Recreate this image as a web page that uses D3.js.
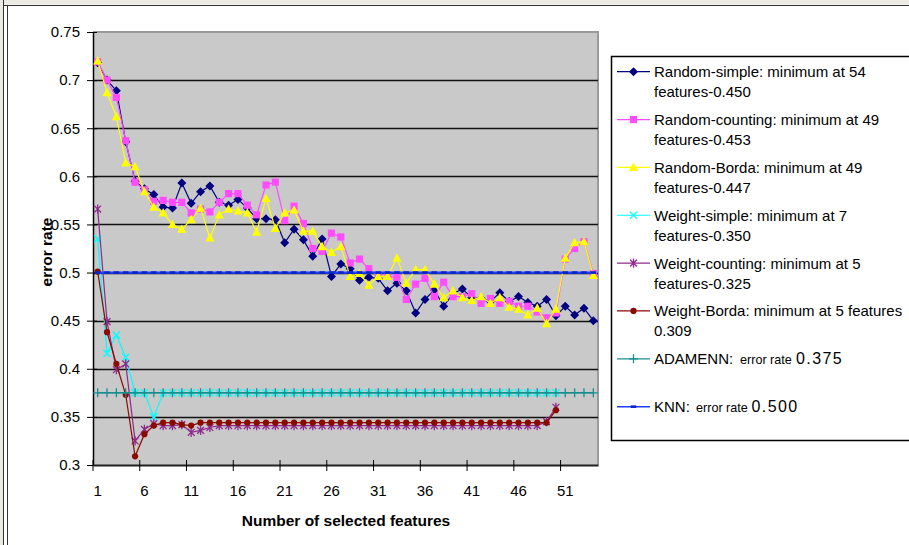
<!DOCTYPE html>
<html>
<head>
<meta charset="utf-8">
<script src="https://cdn.jsdelivr.net/npm/d3@7"></script>
<style>
  body { margin: 0; background: #fff; }
  svg { display: block; font-family: "Liberation Sans", Arial, sans-serif; }
</style>
</head>
<body>
<svg class="chart" width="909" height="545"></svg>
<script>
// --- data ---
const categories = [1,2,3,4,5,6,7,8,9,10,11,12,13,14,15,16,17,18,19,20,21,22,23,24,25,26,27,
  28,29,30,31,32,33,34,35,36,37,38,39,40,41,42,43,44,45,46,47,48,49,50,51,52,53,54];
const xTickLabels = ['1','6','11','16','21','26','31','36','41','46','51'];
const yTicks = [0.3, 0.35, 0.4, 0.45, 0.5, 0.55, 0.6, 0.65, 0.7, 0.75];
const yTickLabels = ['0.3','0.35','0.4','0.45','0.5','0.55','0.6','0.65','0.7','0.75'];

const randomSimple = [0.718,0.700,0.689,0.636,0.595,0.587,0.581,0.568,0.567,0.593,0.572,0.584,0.590,0.573,
  0.570,0.576,0.567,0.556,0.556,0.555,0.531,0.545,0.534,0.517,0.535,0.496,0.509,0.504,0.492,0.495,
  0.494,0.481,0.489,0.481,0.458,0.472,0.482,0.465,0.478,0.483,0.474,0.473,0.470,0.479,0.470,0.475,
  0.469,0.465,0.472,0.455,0.465,0.456,0.463,0.450];
const randomCounting = [0.719,0.700,0.682,0.637,0.594,0.586,0.574,0.575,0.573,0.573,0.562,0.566,0.563,0.573,
  0.582,0.582,0.570,0.560,0.591,0.594,0.554,0.569,0.551,0.525,0.522,0.541,0.537,0.510,0.514,0.504,
  0.496,0.496,0.495,0.472,0.488,0.494,0.475,0.490,0.475,0.475,0.478,0.468,0.473,0.468,0.470,0.465,
  0.465,0.459,0.453,0.458,0.514,0.525,0.532,0.499];
const randomBorda = [0.720,0.687,0.662,0.614,0.610,0.584,0.568,0.562,0.550,0.545,0.555,0.567,0.536,0.560,
  0.566,0.564,0.562,0.542,0.577,0.546,0.562,0.565,0.543,0.543,0.527,0.521,0.527,0.496,0.499,0.487,
  0.496,0.496,0.515,0.489,0.503,0.503,0.488,0.474,0.481,0.474,0.471,0.475,0.468,0.474,0.464,0.462,
  0.456,0.463,0.447,0.462,0.515,0.531,0.532,0.497];
const weightSimple = [0.535,0.416,0.435,0.412,0.375,0.375,0.350,0.375,0.375,0.375,0.375,0.375,0.375,0.375,
  0.375,0.375,0.375,0.375,0.375,0.375,0.375,0.375,0.375,0.375,0.375,0.375,0.375,0.375,0.375,0.375,
  0.375,0.375,0.375,0.375,0.375,0.375,0.375,0.375,0.375,0.375,0.375,0.375,0.375,0.375,0.375,0.375,
  0.375,0.375,0.375,0.375];
const weightCounting = [0.566,0.449,0.399,0.405,0.325,0.337,0.343,0.341,0.341,0.342,0.334,0.336,0.339,0.341,
  0.341,0.341,0.341,0.341,0.341,0.341,0.341,0.341,0.341,0.341,0.341,0.341,0.341,0.341,0.341,0.341,
  0.341,0.341,0.341,0.341,0.341,0.341,0.341,0.341,0.341,0.341,0.341,0.341,0.341,0.341,0.341,0.341,
  0.341,0.341,0.345,0.360];
const weightBorda = [0.501,0.438,0.405,0.373,0.309,0.332,0.341,0.344,0.344,0.342,0.341,0.344,0.344,0.344,
  0.344,0.344,0.344,0.344,0.344,0.344,0.344,0.344,0.344,0.344,0.344,0.344,0.344,0.344,0.344,0.344,
  0.344,0.344,0.344,0.344,0.344,0.344,0.344,0.344,0.344,0.344,0.344,0.344,0.344,0.344,0.344,0.344,
  0.344,0.344,0.344,0.357];
const adamenn = [0.375,0.375,0.375,0.375,0.375,0.375,0.375,0.375,0.375,0.375,0.375,0.375,0.375,0.375,
  0.375,0.375,0.375,0.375,0.375,0.375,0.375,0.375,0.375,0.375,0.375,0.375,0.375,0.375,0.375,0.375,
  0.375,0.375,0.375,0.375,0.375,0.375,0.375,0.375,0.375,0.375,0.375,0.375,0.375,0.375,0.375,0.375,
  0.375,0.375,0.375,0.375,0.375,0.375,0.375,0.375];
const knn = [0.5,0.5,0.5,0.5,0.5,0.5,0.5,0.5,0.5,0.5,0.5,0.5,0.5,0.5,0.5,0.5,0.5,0.5,0.5,0.5,0.5,0.5,
  0.5,0.5,0.5,0.5,0.5,0.5,0.5,0.5,0.5,0.5,0.5,0.5,0.5,0.5,0.5,0.5,0.5,0.5,0.5,0.5,0.5,0.5,0.5,0.5,
  0.5,0.5,0.5,0.5,0.5,0.5,0.5,0.5];

// series styling (drawn in this order, later on top)
const series = [
  { values: randomSimple, color: '#000080', mark: 'diamond', width: 1.2,
    legend: ['Random-simple: minimum at 54', 'features-0.450'] },
  { values: randomCounting, color: '#ff4cff', mark: 'square', width: 1.2,
    legend: ['Random-counting: minimum at 49', 'features-0.453'] },
  { values: randomBorda, color: '#ffff00', mark: 'triangle', width: 1.2,
    legend: ['Random-Borda: minimum at 49', 'features-0.447'] },
  { values: weightSimple, color: '#00ffff', mark: 'x', width: 1.2,
    legend: ['Weight-simple: minimum at 7', 'features-0.350'] },
  { values: weightCounting, color: '#8e2a8e', mark: 'star', width: 1.2,
    legend: ['Weight-counting: minimum at 5', 'features-0.325'] },
  { values: weightBorda, color: '#8b0a00', mark: 'circle', width: 1.2,
    legend: ['Weight-Borda: minimum at 5 features', '0.309'] },
  { values: adamenn, color: '#1a8f8f', mark: 'plus', width: 1.5,
    legend: [[['ADAMENN:', 654, 15], ['error rate', 740, 12.6], ['0.375', 796, 16]]] },
  { values: knn, color: '#2040ff', mark: 'dash', width: 2.2,
    legend: [[['KNN:', 654, 15], ['error rate', 696, 12.6], ['0.500', 751.5, 16]]] }
];

const markPaths = {
  diamond: 'M0,-4.5L4.5,0L0,4.5L-4.5,0Z',
  square: 'M-3.6,-3.6h7.2v7.2h-7.2Z',
  triangle: 'M0,-4.8L4.6,3.6L-4.6,3.6Z',
  circle: 'M0,-3.1A3.1,3.1 0 1,1 0,3.1A3.1,3.1 0 1,1 0,-3.1Z',
  x: 'M-3.6,-3.6L3.6,3.6M-3.6,3.6L3.6,-3.6',
  star: 'M-3.4,-3.4L3.4,3.4M-3.4,3.4L3.4,-3.4M0,-4.6L0,4.6',
  plus: 'M-4.5,0L4.5,0M0,-4.5L0,4.5',
  dash: 'M-2.8,0L2.8,0'
};
const filledMarks = ['diamond', 'square', 'triangle', 'circle'];

const chart = d3.select('.chart');
const width = +chart.attr('width');
const height = +chart.attr('height');

// outer frame of the picture
chart.append('rect').attr('x', 0).attr('y', 0).attr('width', width).attr('height', 4.5).attr('fill', '#ecebe2');
chart.append('rect').attr('x', 0).attr('y', 0).attr('width', 3).attr('height', height).attr('fill', '#ecebe2');
chart.append('line').attr('x1', 3.5).attr('x2', 3.5).attr('y1', 0).attr('y2', height)
  .attr('stroke', '#333').attr('stroke-width', 1);
chart.append('line').attr('x1', 7.5).attr('x2', 7.5).attr('y1', 5).attr('y2', height)
  .attr('stroke', '#333').attr('stroke-width', 1);
chart.append('line').attr('x1', 3).attr('x2', width).attr('y1', 5.5).attr('y2', 5.5)
  .attr('stroke', '#333').attr('stroke-width', 1);

const plot = { left: 93, right: 598, top: 32, bottom: 465 };

const xScale = d3.scaleBand()
  .domain(categories)
  .range([plot.left, plot.right])
  .padding(0);
const xCenter = d => xScale(d) + xScale.bandwidth() / 2;

const yScale = d3.scaleLinear()
  .domain([0.3, 0.75])
  .range([plot.bottom, plot.top]);

// plot area
chart.append('rect')
  .attr('x', plot.left).attr('y', plot.top)
  .attr('width', plot.right - plot.left).attr('height', plot.bottom - plot.top)
  .attr('fill', '#c9c9c9');
chart.append('path')
  .attr('d', `M${plot.left},${plot.top}H${plot.right}V${plot.bottom}`)
  .attr('fill', 'none').attr('stroke', '#9a9a9a').attr('stroke-width', 2);

// gridlines
chart.append('g').selectAll('line')
  .data(yTicks.filter(v => v > 0.3 && v < 0.75))
  .enter().append('line')
  .attr('x1', plot.left).attr('x2', plot.right)
  .attr('y1', d => Math.round(yScale(d)) + 0.5).attr('y2', d => Math.round(yScale(d)) + 0.5)
  .attr('stroke', '#111').attr('stroke-width', 1.3);

// y axis
const yAxis = chart.append('g')
  .attr('transform', `translate(${plot.left},0)`)
  .call(d3.axisLeft(yScale)
    .tickValues(yTicks)
    .tickFormat((d, i) => yTickLabels[i])
    .tickSizeOuter(0)
    .tickSizeInner(6)
    .tickPadding(7));
yAxis.select('.domain').attr('stroke', '#000').attr('stroke-width', 1.5);
yAxis.selectAll('.tick line').attr('x2', 4).attr('x1', -6).attr('stroke', '#000');
yAxis.selectAll('.tick text')
  .attr('font-family', '"Liberation Sans", Arial, sans-serif')
  .attr('font-size', 15).attr('fill', '#000');

// x axis: ticks between categories, labels centred
const xAxis = chart.append('g')
  .attr('transform', `translate(0,${plot.bottom})`)
  .call(d3.axisBottom(xScale)
    .tickValues(xTickLabels.map(Number))
    .tickSizeOuter(0)
    .tickSizeInner(6)
    .tickPadding(14));
xAxis.select('.domain').attr('stroke', '#222').attr('stroke-width', 2);
xAxis.selectAll('.tick line')
  .attr('x1', -xScale.bandwidth() / 2).attr('x2', -xScale.bandwidth() / 2)
  .attr('y1', -5).attr('y2', 6).attr('stroke', '#000');
xAxis.selectAll('.tick text')
  .attr('font-family', '"Liberation Sans", Arial, sans-serif')
  .attr('font-size', 15).attr('fill', '#000');

// axis titles
chart.append('text')
  .attr('x', 346).attr('y', 526)
  .attr('text-anchor', 'middle')
  .attr('font-size', 15.5).attr('font-weight', 'bold')
  .text('Number of selected features');
chart.append('text')
  .attr('transform', 'translate(52,252) rotate(-90)')
  .attr('text-anchor', 'middle')
  .attr('font-size', 15.5).attr('font-weight', 'bold')
  .text('error rate');

// series
const line = d3.line()
  .x((d, i) => xCenter(categories[i]))
  .y(d => yScale(d));

const drawMark = (sel, s) => {
  sel.attr('d', markPaths[s.mark]);
  if (filledMarks.includes(s.mark)) {
    sel.attr('fill', s.color).attr('stroke', 'none');
  } else {
    sel.attr('fill', 'none').attr('stroke', s.mark === 'dash' ? '#0a24c8' : s.color)
      .attr('stroke-width', s.mark === 'dash' ? 2.6 : 1.3);
  }
};

series.forEach(s => {
  const g = chart.append('g');
  g.append('path')
    .datum(s.values)
    .attr('d', line)
    .attr('fill', 'none')
    .attr('stroke', s.color)
    .attr('stroke-width', s.width);
  g.selectAll('path.mark')
    .data(s.values)
    .enter().append('path')
    .attr('class', 'mark')
    .attr('transform', (d, i) => `translate(${xCenter(categories[i])},${yScale(d)})`)
    .call(drawMark, s);
});

// legend
const legend = chart.append('g');
legend.append('rect')
  .attr('x', 611.5).attr('y', 56.5)
  .attr('width', 310).attr('height', 384)
  .attr('fill', '#fff').attr('stroke', '#000').attr('stroke-width', 1.5);

series.forEach((s, k) => {
  const cy = 71.7 + k * 47.85;
  const item = legend.append('g');
  item.append('line')
    .attr('x1', 617).attr('x2', 650).attr('y1', cy).attr('y2', cy)
    .attr('stroke', s.color).attr('stroke-width', s.mark === 'dash' ? 1.5 : 1.2);
  item.append('path')
    .attr('transform', `translate(633.5,${cy})`)
    .call(drawMark, s);
  s.legend.forEach((txt, j) => {
    if (Array.isArray(txt)) {
      // mixed-size line: [text, x, size]
      txt.forEach(([str, x, size]) => {
        item.append('text')
          .attr('x', x).attr('y', cy + 5.4)
          .attr('font-size', size).attr('fill', '#000')
          .attr('letter-spacing', size === 16 ? 1.4 : 0)
          .text(str);
      });
    } else {
      item.append('text')
        .attr('x', 654).attr('y', cy + 5.4 + j * 20)
        .attr('font-size', 15).attr('fill', '#000')
        .text(txt);
    }
  });
});
</script>
</body>
</html>
